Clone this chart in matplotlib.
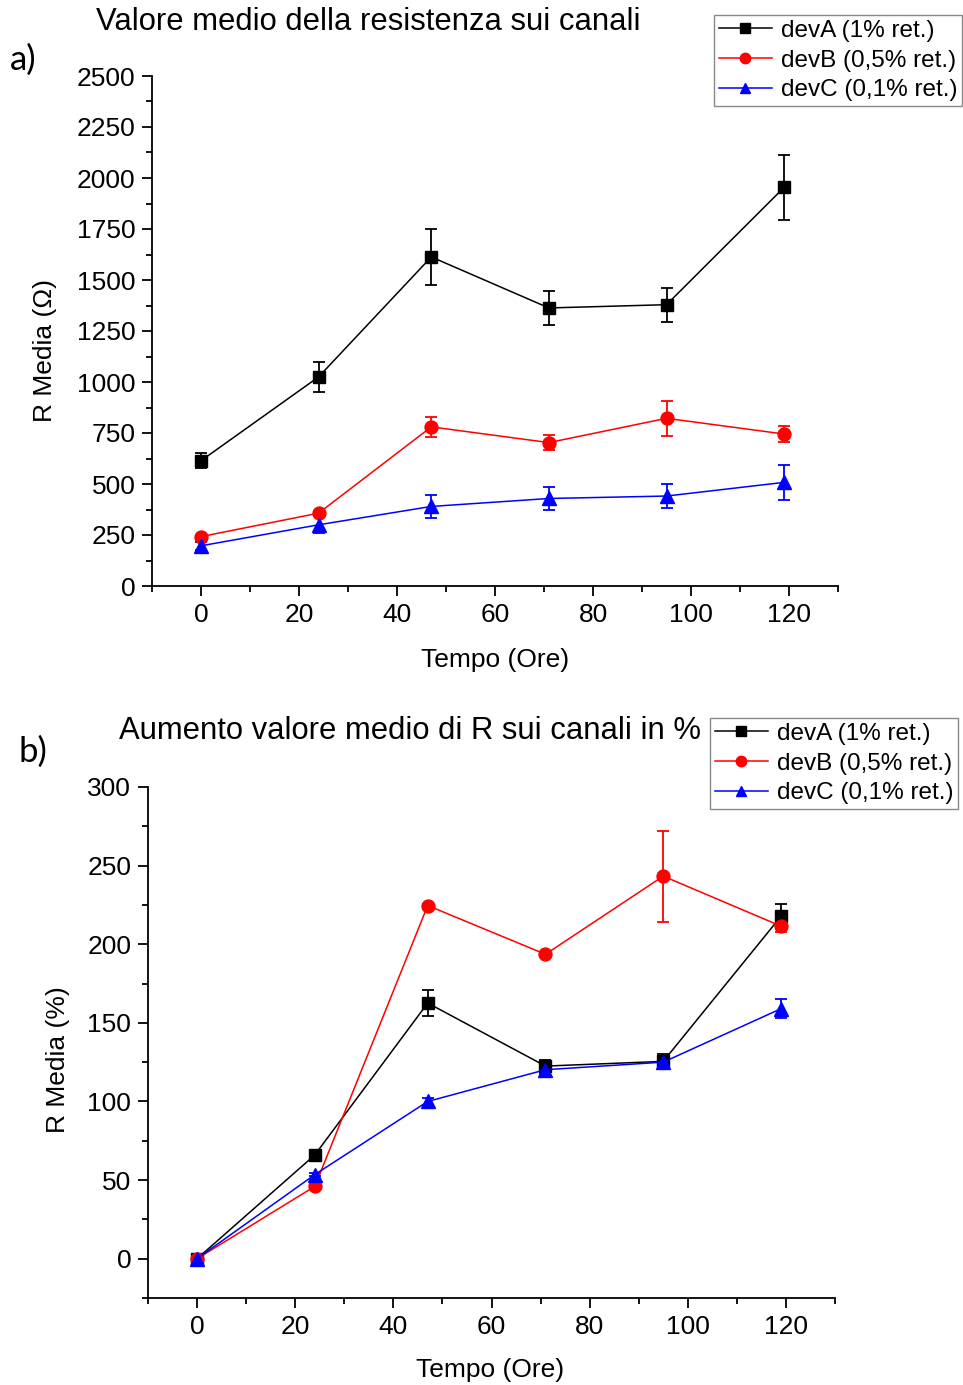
import matplotlib
matplotlib.use("Agg")
import matplotlib.pyplot as plt
from matplotlib.ticker import MultipleLocator
from matplotlib.lines import Line2D

plt.rcParams['font.family'] = ['Liberation Sans', 'DejaVu Sans']

hours = [0, 24, 47, 71, 95, 119]
labels = ["devA (1% ret.)", "devB (0,5% ret.)", "devC (0,1% ret.)"]
colors = ["black", "red", "blue"]
markers = ["s", "o", "^"]

# Panel a) mean resistance (Ohm)
resA = [614, 1025, 1613, 1363, 1379, 1954]
resA_err = [38, 73, 137, 82, 83, 160]
resB = [242, 357, 780, 703, 822, 745]
resB_err = [10, 10, 50, 38, 85, 38]
resC = [197, 300, 390, 429, 441, 508]
resC_err = [20, 42, 56, 58, 60, 85]

# Panel b) percent increase
pctA = [0, 66, 162.6, 122.5, 125.5, 217.8]
pctA_err = [1, 1, 8, 4, 5, 8]
pctB = [0, 46, 224.6, 193.6, 243.3, 211.5]
pctB_err = [1, 1, 1, 1, 29, 4]
pctC = [0, 53.5, 100, 120.2, 125, 159]
pctC_err = [1, 1, 2, 3, 3, 6]

W, H = 963, 1385
fig = plt.figure(figsize=(W / 100, H / 100), dpi=100)

def px_axes(left, top, right, bottom):
    return fig.add_axes([left / W, 1 - bottom / H, (right - left) / W, (bottom - top) / H])

ax1 = px_axes(152, 76, 838, 586)
ax2 = px_axes(148, 787, 835, 1298)

msizes = [8.3, 9.3, 10.3]
FS = 19

def draw(ax, series, errs):
    for vals, err, c, m, lab, ms in zip(series, errs, colors, markers, labels, msizes):
        ax.errorbar(hours, vals, yerr=err, color=c, marker=m, markersize=ms,
                    linewidth=1.1, elinewidth=1.3, capsize=4, capthick=1.3,
                    label=lab, clip_on=False)

draw(ax1, [resA, resB, resC], [resA_err, resB_err, resC_err])
draw(ax2, [pctA, pctB, pctC], [pctA_err, pctB_err, pctC_err])

for ax in (ax1, ax2):
    ax.spines['top'].set_visible(False)
    ax.spines['right'].set_visible(False)
    ax.spines['left'].set_linewidth(1.3)
    ax.spines['bottom'].set_linewidth(1.3)
    ax.set_xlim(-10, 130)
    ax.xaxis.set_major_locator(MultipleLocator(20))
    ax.xaxis.set_minor_locator(MultipleLocator(10))
    ax.tick_params(which='major', direction='out', length=7, width=1.3, labelsize=FS, pad=5)
    ax.tick_params(which='minor', direction='out', length=4, width=1.3)

ax1.set_ylim(0, 2500)
ax1.yaxis.set_major_locator(MultipleLocator(250))
ax1.yaxis.set_minor_locator(MultipleLocator(125))

ax2.set_ylim(-25, 300)
ax2.yaxis.set_major_locator(MultipleLocator(50))
ax2.yaxis.set_minor_locator(MultipleLocator(25))

def ftext(x, y, s, **kw):
    fig.text(x / W, 1 - y / H, s, ha='center', va='center', **kw)

ftext(495, 660, "Tempo (Ore)", fontsize=FS)
ftext(490, 1370, "Tempo (Ore)", fontsize=FS)
ftext(45, 350, "R Media (Ω)", fontsize=FS, rotation=90)
ftext(58, 1060, "R Media (%)", fontsize=FS, rotation=90)
ftext(368, 22, "Valore medio della resistenza sui canali", fontsize=22.3)
ftext(410, 731, "Aumento valore medio di R sui canali in %", fontsize=22.3)
ftext(23, 60, "a)", fontsize=25, family=['Lato', 'DejaVu Sans'])
ftext(33, 752, "b)", fontsize=25, family=['Lato', 'DejaVu Sans'])

def legend(ax, x, y):
    handles = [Line2D([], [], color=c, marker=m, markersize=7.5, linewidth=1.1)
               for c, m in zip(colors, markers)]
    leg = ax.legend(handles, labels, loc='upper right', bbox_to_anchor=(x / W, 1 - y / H),
                    bbox_transform=fig.transFigure, fontsize=17.5, frameon=True, fancybox=False,
                    edgecolor='#888888', framealpha=1, handlelength=2.2, handletextpad=0.35,
                    labelspacing=0.32, borderpad=0.2, borderaxespad=0)
    leg.get_frame().set_linewidth(1.0)
    return leg

legend(ax1, 962, 15)
legend(ax2, 958, 718)

fig.savefig("out.png", dpi=100)
